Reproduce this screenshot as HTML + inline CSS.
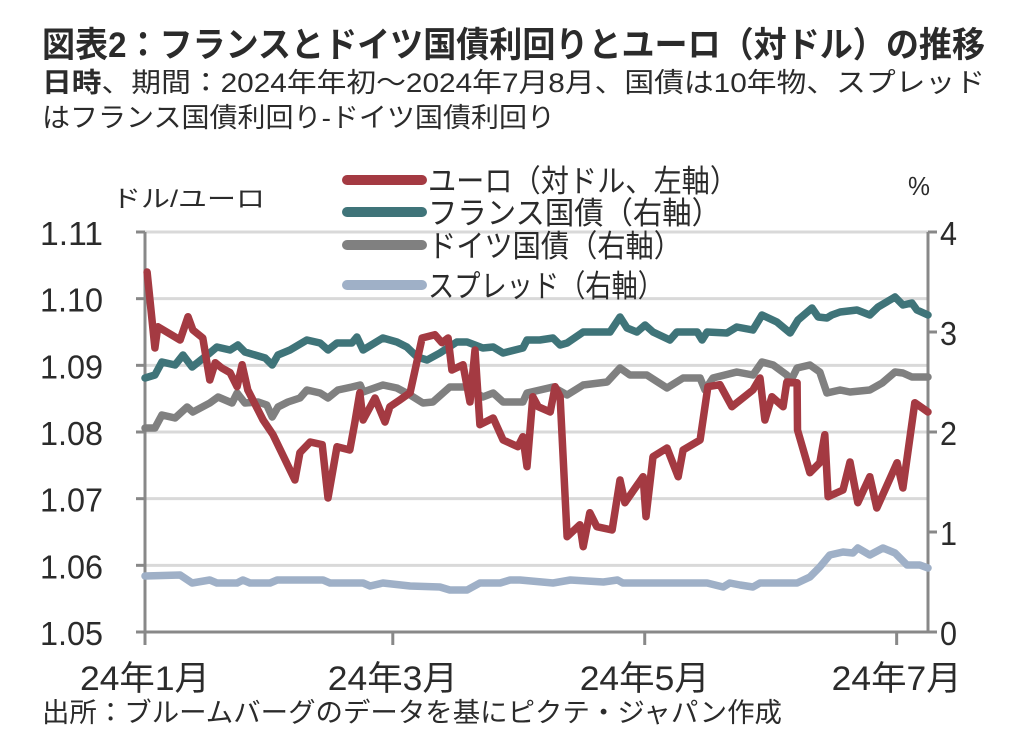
<!DOCTYPE html>
<html><head><meta charset="utf-8"><style>
html,body{margin:0;padding:0;background:#fff;}
svg{display:block;}
text{font-family:"Liberation Sans","Noto Sans CJK JP",sans-serif;fill:#2b2b2b;}
</style></head><body>
<svg id="chart" width="1026" height="735" viewBox="0 0 1026 735" xmlns="http://www.w3.org/2000/svg">
<text x="42" y="57" font-size="35" font-weight="bold" textLength="943" lengthAdjust="spacingAndGlyphs">図表2：フランスとドイツ国債利回りとユーロ（対ドル）の推移</text>
<text x="42" y="92" font-size="27" textLength="943" lengthAdjust="spacingAndGlyphs"><tspan font-weight="bold">日時</tspan>、期間：2024年年初～2024年7月8月、国債は10年物、スプレッド</text>
<text x="42" y="127" font-size="27" textLength="513" lengthAdjust="spacingAndGlyphs">はフランス国債利回り-ドイツ国債利回り</text>
<g id="grid"></g><g id="axes"></g><g id="series"></g><g id="legend"></g>
<text x="112" y="207" font-size="24" textLength="153" lengthAdjust="spacingAndGlyphs">ドル/ユーロ</text>
<text x="908" y="195" font-size="26" textLength="22" lengthAdjust="spacingAndGlyphs">%</text>
<text x="42" y="722" font-size="27" textLength="740" lengthAdjust="spacingAndGlyphs">出所：ブルームバーグのデータを基にピクテ・ジャパン作成</text>
</svg>
<script>
const leftTicks=[1.05,1.06,1.07,1.08,1.09,1.10,1.11];
const leftTickLabels=["1.05","1.06","1.07","1.08","1.09","1.10","1.11"];
const rightTicks=[0,1,2,3,4];
const monthDays=[0,60,121,182];
const monthLabels=["24年1月","24年3月","24年5月","24年7月"];
const seriesNames=["ユーロ（対ドル、左軸）","フランス国債（右軸）","ドイツ国債（右軸）","スプレッド（右軸）"];

const euroDays=[0.5,2.4,3.1,8.5,10.4,11.6,14,15.7,17,18.6,20.6,22.3,23.5,24.9,28.6,31,36.3,37.5,40,42.9,44.3,46.5,49.6,50.8,52,52.8,55.7,58.1,59.3,61.7,64.2,67.1,70.2,71.9,73.4,74.3,77,78.7,79.9,81.1,84.3,86.7,90.3,91.5,92.5,93.9,95.2,98.1,99.3,100.5,102.2,105.3,106.1,107.7,109.4,113.1,115,116.2,120.6,121.3,123,126.4,129.1,130.3,134.4,136.3,139.2,142.1,147.2,148.9,150.1,151.8,154.5,155.4,157.9,158,161,163.4,164.6,165.4,169,170.7,172.6,175.5,177.2,182.1,183.5,186.4,189.6];
const euroValues=[1.104,1.0926,1.0958,1.0938,1.0973,1.0953,1.0941,1.0878,1.0904,1.0896,1.0889,1.0868,1.0901,1.0863,1.0818,1.0796,1.0728,1.0769,1.0785,1.0781,1.0701,1.0778,1.0773,1.0814,1.0859,1.0818,1.0851,1.0815,1.0838,1.0848,1.0859,1.0941,1.0946,1.0934,1.0941,1.0893,1.0901,1.0845,1.0923,1.0811,1.0821,1.0788,1.0778,1.0793,1.0748,1.0853,1.0838,1.0830,1.0868,1.0853,1.0643,1.0661,1.0628,1.0679,1.0658,1.0653,1.0728,1.0694,1.0733,1.0673,1.0763,1.0776,1.0733,1.0773,1.0788,1.0868,1.0871,1.0838,1.0863,1.0881,1.0818,1.0853,1.0838,1.0875,1.0874,1.0803,1.0739,1.0754,1.0796,1.0703,1.0713,1.0755,1.0694,1.0733,1.0686,1.0754,1.0716,1.0844,1.0830];

const franceDays=[0,2.4,4.1,7.3,9.2,11.4,15.7,17.4,20.6,22.5,24.2,29.1,30.8,32.2,35.1,39.2,42.4,44.3,46.5,50.1,51.3,52.8,57.6,61,63.4,65.9,68.3,71.4,75.5,78,81.8,84.3,86.7,91.5,92.5,95.6,98.8,100.5,102.2,106.1,112.6,115,116.7,119.1,121.1,123,127.1,128.8,133.7,134.9,136.1,140.9,143.3,147.2,149.4,153,156.2,158.1,161.5,163,165.1,166.3,168.3,172.4,175.5,177.5,181.6,183.5,185.7,186.9,189.6];
const franceValues=[2.54,2.57,2.70,2.67,2.77,2.65,2.79,2.85,2.82,2.87,2.80,2.74,2.67,2.77,2.82,2.92,2.89,2.82,2.89,2.89,2.95,2.82,2.94,2.90,2.85,2.75,2.72,2.79,2.90,2.90,2.84,2.85,2.79,2.84,2.92,2.92,2.94,2.87,2.89,3.00,3.00,3.15,3.04,3.00,3.07,3.00,2.92,3.00,3.00,2.92,3.00,2.99,3.05,3.02,3.17,3.10,2.99,3.12,3.24,3.15,3.14,3.17,3.20,3.22,3.17,3.25,3.35,3.27,3.29,3.22,3.17];

const germanyDays=[0,2.4,4.1,7.3,10.2,11.6,15.7,17.7,21.1,22.3,24.2,27.4,29.5,30.8,32.2,34.6,37.5,39.2,42.4,44.3,46.7,50.1,52.1,52.8,57.6,61,64.2,67.3,69.7,73.8,78,81.8,84.3,86.7,91.5,92.5,98.8,102.2,106.1,111.9,115,117.4,121.5,126.4,130.3,134.4,135.6,137.5,143.3,147.2,149.4,152.1,155.4,156.2,157.9,161,163.4,165.1,168.3,170.7,175.5,178.5,181.6,183.5,185.7,189.6];
const germanyValues=[2.04,2.04,2.17,2.14,2.25,2.20,2.29,2.35,2.29,2.39,2.29,2.30,2.27,2.15,2.25,2.30,2.34,2.42,2.39,2.34,2.42,2.45,2.47,2.40,2.47,2.44,2.37,2.29,2.30,2.45,2.45,2.35,2.39,2.30,2.30,2.39,2.45,2.37,2.47,2.50,2.64,2.57,2.57,2.44,2.54,2.54,2.42,2.54,2.60,2.57,2.70,2.67,2.57,2.50,2.64,2.67,2.60,2.39,2.42,2.40,2.42,2.49,2.60,2.59,2.55,2.55];

const spreadDays=[0,8.5,11.4,15.7,17.4,22.3,23.7,25.4,30.3,32,43.1,44.8,52.8,54.5,57.6,64.2,71.4,73.8,78,81.1,86,88.4,90.8,98.8,103,111,114.4,115.7,136.1,140,141.6,144.1,147.2,148.9,157.9,161,163.4,165.8,169,171.4,172.6,175.5,178.7,181.6,184.5,187.6,189.6];
const spreadValues=[0.56,0.57,0.49,0.52,0.49,0.49,0.52,0.49,0.49,0.52,0.52,0.49,0.49,0.46,0.49,0.46,0.45,0.42,0.42,0.49,0.49,0.52,0.52,0.49,0.52,0.50,0.52,0.49,0.49,0.45,0.49,0.47,0.45,0.49,0.49,0.55,0.65,0.77,0.80,0.79,0.84,0.77,0.84,0.79,0.67,0.67,0.64];

const X0=145,X1=928,YT=232,YB=632;
const xScale=d=>X0+d*4.13;
const yLeft=v=>YB-(v-1.05)/0.06*(YB-YT);
const yRight=v=>YB-v/4*(YB-YT);
const NS="http://www.w3.org/2000/svg";
function mk(tag,attrs,parent){const e=document.createElementNS(NS,tag);for(const k in attrs)e.setAttribute(k,attrs[k]);parent.appendChild(e);return e;}
const grid=document.getElementById('grid'),axes=document.getElementById('axes'),ser=document.getElementById('series'),leg=document.getElementById('legend');

leftTicks.forEach((v,i)=>{
  const y=yLeft(v);
  if(i>0){const g=mk('line',{x1:X0,x2:X1,y1:y,y2:y,stroke:'#d9d9d9','stroke-width':3},grid);
  
  }
  const t=mk('line',{x1:X0-9,x2:X0,y1:y,y2:y,stroke:'#888','stroke-width':3},axes);
  
  
  const l=mk('text',{x:103,y:y+13,'font-size':33,'text-anchor':'end',textLength:63,lengthAdjust:'spacingAndGlyphs'},axes);
  l.textContent=leftTickLabels[i];
  
  
});
rightTicks.forEach(v=>{
  const y=yRight(v);
  const t=mk('line',{x1:X1,x2:X1+9,y1:y,y2:y,stroke:'#888','stroke-width':3},axes);
  
  
  const l=mk('text',{x:940,y:y+13,'font-size':33,textLength:17,lengthAdjust:'spacingAndGlyphs'},axes);
  l.textContent=String(v);
  
  
});
let a=mk('line',{x1:X0,x2:X0,y1:YT,y2:YB+1,stroke:'#888','stroke-width':3},axes);


a=mk('line',{x1:X1,x2:X1,y1:YT,y2:YB+1,stroke:'#888','stroke-width':3},axes);


a=mk('line',{x1:X0,x2:X1,y1:YB,y2:YB,stroke:'#888','stroke-width':3},axes);


monthDays.forEach((d,i)=>{
  const x=xScale(d);
  const t=mk('line',{x1:x,x2:x,y1:YB,y2:YB+13,stroke:'#888','stroke-width':3},axes);
  
  
  const l=mk('text',{x:x-65,y:690,'font-size':34,textLength:130,lengthAdjust:'spacingAndGlyphs'},axes);
  l.textContent=monthLabels[i];
  
  
});
function drawLine(days,vals,yf,color,name){
  const pts=days.map((d,i)=>xScale(d).toFixed(1)+','+yf(vals[i]).toFixed(1)).join(' ');
  const p=mk('polyline',{points:pts,fill:'none',stroke:color,'stroke-width':7.5,'stroke-linejoin':'round','stroke-linecap':'round'},ser);
  
  
}
drawLine(spreadDays,spreadValues,yRight,'#9fb0c7','spread-line');
drawLine(germanyDays,germanyValues,yRight,'#808080','germany-yield-line');
drawLine(franceDays,franceValues,yRight,'#3f7479','france-yield-line');
drawLine(euroDays,euroValues,yLeft,'#a43a42','euro-line');

const legColors=['#a43a42','#3f7479','#808080','#9fb0c7'];
const legY=[180,212,245,285];
const legW=[310,293,254,236];
seriesNames.forEach((n,i)=>{
  const g=mk('g',{},leg);
  
  
  mk('line',{x1:347,x2:422,y1:legY[i],y2:legY[i],stroke:legColors[i],'stroke-width':10,'stroke-linecap':'round'},g);
  const t=mk('text',{x:428,y:legY[i]+12,'font-size':31,textLength:legW[i],lengthAdjust:'spacingAndGlyphs'},g);
  t.textContent=n;
});
</script>
</body></html>
